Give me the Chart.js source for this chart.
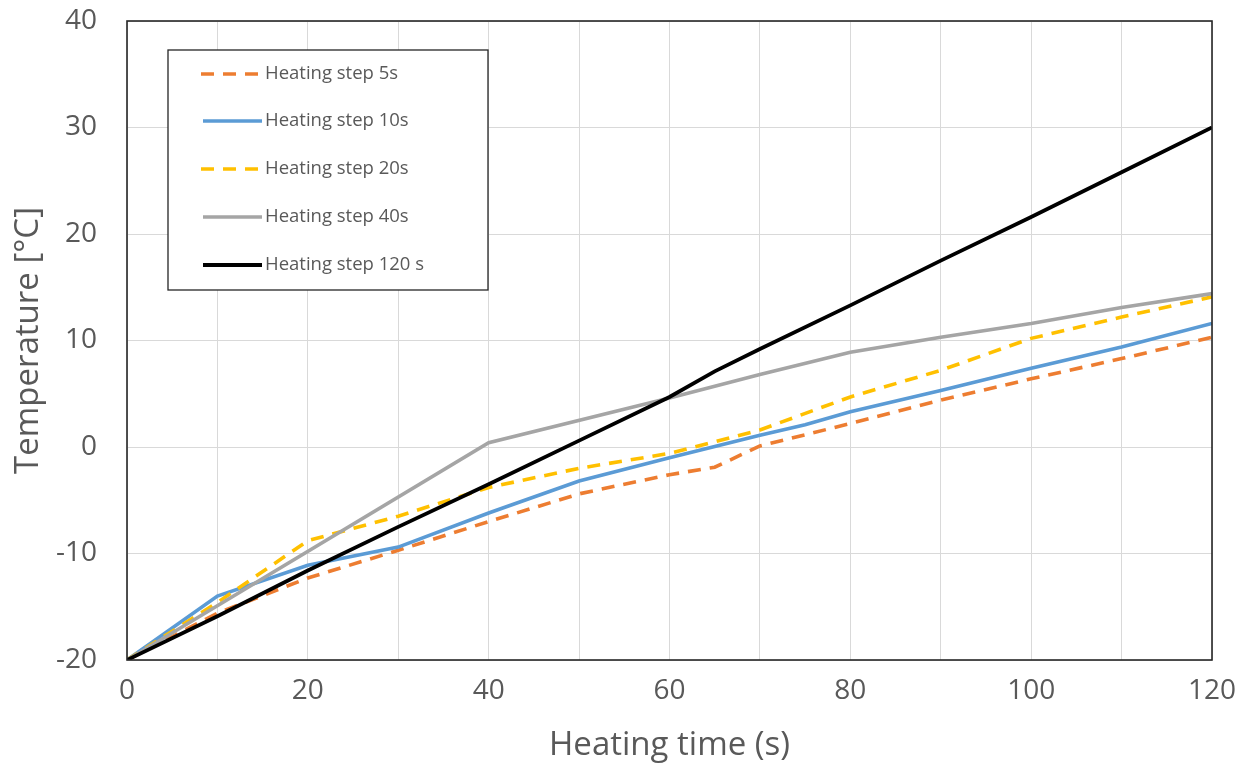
<!DOCTYPE html>
<html>
<head>
<meta charset="utf-8">
<script src="https://cdn.jsdelivr.net/npm/chart.js@4.4.1/dist/chart.umd.min.js"></script>
<style>
  html, body { margin: 0; padding: 0; background: #fff; }
  #wrap { width: 1254px; height: 765px; position: relative; }
</style>
</head>
<body>
<div id="wrap"><canvas id="c" width="1254" height="765"></canvas></div>
<script>
// ---- Data ----
const seriesNames = ['Heating step 5s', 'Heating step 10s', 'Heating step 20s', 'Heating step 40s', 'Heating step 120 s'];

const time5s   = [0, 10, 20, 30, 40, 50, 60, 65, 70, 80, 90, 100, 110, 120];
const temp5s   = [-20, -15.6, -12.3, -9.7, -7.0, -4.4, -2.6, -1.9, 0.1, 2.2, 4.4, 6.4, 8.3, 10.3];

const time10s  = [0, 10, 20, 30, 40, 50, 60, 70, 75, 80, 90, 100, 110, 120];
const temp10s  = [-20, -14.0, -11.1, -9.4, -6.2, -3.2, -1.0, 1.1, 2.1, 3.3, 5.3, 7.4, 9.4, 11.6];

const time20s  = [0, 10, 20, 30, 40, 50, 60, 70, 80, 90, 100, 110, 120];
const temp20s  = [-20, -14.6, -8.8, -6.5, -3.8, -2.0, -0.6, 1.6, 4.7, 7.2, 10.2, 12.2, 14.1];

const time40s  = [0, 40, 60, 70, 80, 90, 100, 110, 120];
const temp40s  = [-20, 0.4, 4.6, 6.8, 8.9, 10.3, 11.6, 13.1, 14.4];

const time120s = [0, 10, 20, 30, 40, 50, 60, 65, 70, 80, 90, 100, 110, 120];
const temp120s = [-20, -15.9, -11.6, -7.5, -3.5, 0.6, 4.7, 7.1, 9.2, 13.3, 17.5, 21.6, 25.8, 30];

const xTickLabels = [0, 20, 40, 60, 80, 100, 120];
const yTickLabels = [-20, -10, 0, 10, 20, 30, 40];

const colors = ['#ED7D31', '#5B9BD5', '#FFC000', '#A5A5A5', '#000000'];
const dashes = [[13, 9], [], [13, 9], [], []];

function pts(xs, ys) { return xs.map((x, i) => ({ x: x, y: ys[i] })); }
const allData = [pts(time5s, temp5s), pts(time10s, temp10s), pts(time20s, temp20s), pts(time40s, temp40s), pts(time120s, temp120s)];

const datasets = allData.map((d, i) => ({
  label: seriesNames[i],
  data: d,
  borderColor: colors[i],
  backgroundColor: colors[i],
  borderWidth: i === 4 ? 3.8 : 3.6,
  borderDash: dashes[i],
  pointRadius: 0,
  tension: 0,
  fill: false,
  order: 5 - i
}));

const tickColor = '#595959';
const FONT = "'Open Sans', 'Noto Sans', sans-serif";

// Custom legend drawn inside the plot area
const boxLegend = {
  id: 'boxLegend',
  afterDraw(chart) {
    const ctx = chart.ctx;
    const left = 168, top = 50, w = 320, h = 240;
    ctx.save();
    ctx.fillStyle = '#ffffff';
    ctx.fillRect(left, top, w, h);
    ctx.strokeStyle = '#262626';
    ctx.lineWidth = 1.3;
    ctx.strokeRect(left, top, w, h);
    ctx.font = "18.5px " + FONT;
    ctx.textBaseline = 'middle';
    const rowY = [74, 121, 169, 217, 265];
    chart.data.datasets.forEach((ds, i) => {
      const y = rowY[i];
      ctx.beginPath();
      ctx.strokeStyle = ds.borderColor;
      ctx.lineWidth = ds.borderWidth;
      ctx.setLineDash(ds.borderDash.length ? [13, 9] : []);
      if (ds.borderDash.length) {
        ctx.moveTo(201, y); ctx.lineTo(260, y);
      } else {
        ctx.moveTo(203, y); ctx.lineTo(262, y);
      }
      ctx.stroke();
      ctx.setLineDash([]);
      ctx.fillStyle = tickColor;
      ctx.fillText(ds.label, 265, y);
    });
    ctx.restore();
  }
};

// Plot border (full box)
const plotBorder = {
  id: 'plotBorder',
  afterDatasetsDraw(chart) {
    const a = chart.chartArea, ctx = chart.ctx;
    ctx.save();
    ctx.strokeStyle = '#262626';
    ctx.lineWidth = 1.6;
    ctx.strokeRect(a.left, a.top, a.right - a.left, a.bottom - a.top);
    ctx.restore();
  }
};

new Chart(document.getElementById('c'), {
  type: 'line',
  data: { datasets: datasets },
  options: {
    responsive: false,
    animation: false,
    devicePixelRatio: 1,
    layout: { padding: { top: 21, right: 42, left: 0, bottom: 0 } },
    plugins: {
      legend: { display: false },
      tooltip: { enabled: false }
    },
    scales: {
      x: {
        type: 'linear',
        min: 0, max: 120,
        afterFit(s) { s.height = 105; },
        ticks: {
          stepSize: 10,
          autoSkip: false,
          maxRotation: 0,
          color: tickColor,
          font: { family: FONT, size: 28 },
          padding: 14,
          callback: (v) => xTickLabels.includes(v) ? String(v) : ''
        },
        grid: { color: '#d9d9d9', lineWidth: 1, drawTicks: false },
        border: { display: false },
        title: {
          display: true,
          text: 'Heating time (s)',
          color: tickColor,
          font: { family: FONT, size: 33 },
          padding: { top: 0, bottom: 0 }
        }
      },
      y: {
        type: 'linear',
        min: -20, max: 40,
        afterFit(s) { s.width = 127; s.paddingTop = 0; s.paddingBottom = 0; },
        ticks: {
          stepSize: 10,
          color: tickColor,
          font: { family: FONT, size: 28 },
          padding: 30,
          callback: (v) => yTickLabels.includes(v) ? String(v) : ''
        },
        grid: { color: '#d9d9d9', lineWidth: 1, drawTicks: false },
        border: { display: false },
        title: {
          display: true,
          text: 'Temperature [°C]',
          color: tickColor,
          font: { family: FONT, size: 33 },
          padding: { top: 9, bottom: 0 }
        }
      }
    }
  },
  plugins: [plotBorder, boxLegend]
});
</script>
</body>
</html>
